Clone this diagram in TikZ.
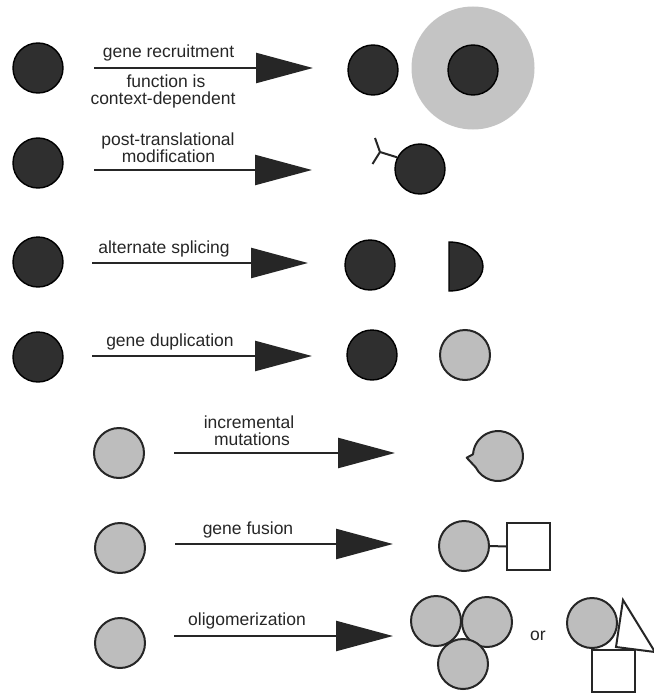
\documentclass[tikz,border=0pt]{standalone}
\usepackage{fontspec}
\setmainfont{Liberation Sans}
\usetikzlibrary{arrows.meta}
\definecolor{darkfill}{HTML}{2F2F2F}
\definecolor{greyfill}{HTML}{BDBDBD}
\definecolor{halofill}{HTML}{C4C4C4}
\definecolor{ink}{HTML}{262626}
\begin{document}
\begin{tikzpicture}[x=1pt,y=-1pt,
  dark/.style={circle,minimum size=50pt,inner sep=0pt,fill=darkfill,draw=black,line width=1.4pt},
  grey/.style={circle,minimum size=50pt,inner sep=0pt,fill=greyfill,draw=ink,line width=2pt},
  halo/.style={circle,minimum size=123pt,inner sep=0pt,fill=halofill},
  greypath/.style={fill=greyfill,draw=ink,line width=2pt,line join=round},
  darkpath/.style={fill=darkfill,draw=black,line width=1.4pt},
  openshape/.style={fill=white,draw=ink,line width=2pt,line join=miter},
  link/.style={draw=ink,line width=2pt},
  arr/.style={draw=ink,line width=2.4pt,-{Triangle[length=57pt,width=30pt]}},
  lbl/.style={anchor=base,inner sep=0pt,text=ink,font=\fontsize{17.5}{17}\selectfont}
]
\useasboundingbox (0,0) rectangle (653,693);

% ---- gene recruitment ----
\node[dark] (l1) at (38,68) {};
\coordinate (a1s) at (94,68);
\coordinate (a1e) at (313,68);
\draw[arr] (a1s) -- (a1e);
\node[lbl] (t1a) at (168.5,57) {gene recruitment};
\node[lbl] (t1b) at (166,87) {function is};
\node[lbl] (t1c) at (163,104) {context-dependent};
\node[dark] (r1a) at (373,70) {};
\node[halo] (r1h) at (473,68) {};
\node[dark] (r1b) at (473,70) {};

% ---- post-translational modification ----
\node[dark] (l2) at (38,163) {};
\coordinate (a2s) at (94,170);
\coordinate (a2e) at (312,170);
\draw[arr] (a2s) -- (a2e);
\node[lbl] (t2a) at (168,145) {post-translational};
\node[lbl] (t2b) at (168.5,162) {modification};
\node[dark] (r2) at (420,169) {};
\coordinate (fork) at (380,152);
\coordinate (forkup) at (375,138);
\coordinate (forkdn) at (372.5,164);
\draw[link] (r2.153) -- (fork);
\draw[link] (forkup) -- (fork) -- (forkdn);

% ---- alternate splicing ----
\node[dark] (l3) at (38,262) {};
\coordinate (a3s) at (92,263);
\coordinate (a3e) at (308,263);
\draw[arr] (a3s) -- (a3e);
\node[lbl] (t3) at (164,253) {alternate splicing};
\node[dark] (r3) at (370,265) {};
\draw[darkpath] (449,242) arc[start angle=-90,end angle=90,x radius=34,y radius=24.5] -- cycle;

% ---- gene duplication ----
\node[dark] (l4) at (38,357) {};
\coordinate (a4s) at (92,356);
\coordinate (a4e) at (312,356);
\draw[arr] (a4s) -- (a4e);
\node[lbl] (t4) at (170,346) {gene duplication};
\node[dark] (r4a) at (372,355) {};
\node[grey] (r4b) at (465,355) {};

% ---- incremental mutations ----
\node[grey] (l5) at (119,453) {};
\coordinate (a5s) at (174,453);
\coordinate (a5e) at (395,453);
\draw[arr] (a5s) -- (a5e);
\node[lbl] (t5a) at (249,428) {incremental};
\node[lbl] (t5b) at (252,445) {mutations};
\draw[greypath] (473.06,454.26) -- (466.7,457.7) -- (475.7,467.35)
  arc[start angle=153,end angle=-176,radius=25] -- cycle;

% ---- gene fusion ----
\node[grey] (l6) at (120,548) {};
\coordinate (a6s) at (175,544);
\coordinate (a6e) at (393,544);
\draw[arr] (a6s) -- (a6e);
\node[lbl] (t6) at (248,534) {gene fusion};
\node[grey] (r6) at (464,546) {};
\node[openshape,rectangle,minimum width=43pt,minimum height=47pt,inner sep=0pt] (r6s) at (528.5,546.5) {};
\draw[link] (r6.east) -- (r6s.west);

% ---- oligomerization ----
\node[grey] (l7) at (120,643) {};
\coordinate (a7s) at (174,636);
\coordinate (a7e) at (393,636);
\draw[arr] (a7s) -- (a7e);
\node[lbl] (t7) at (247,625) {oligomerization};
\node[grey] (o1) at (436,621) {};
\node[grey] (o2) at (487,622) {};
\node[grey] (o3) at (463,664) {};
\node[anchor=center,inner sep=0pt,text=ink,font=\fontsize{17.5}{17}\selectfont] (or) at (538,636) {or};
\node[grey] (h1) at (592,623) {};
\draw[openshape] (623,600) -- (616,647) -- (655,652) -- cycle;
\draw[openshape] (592,650) rectangle (635,692);
\end{tikzpicture}
\end{document}
